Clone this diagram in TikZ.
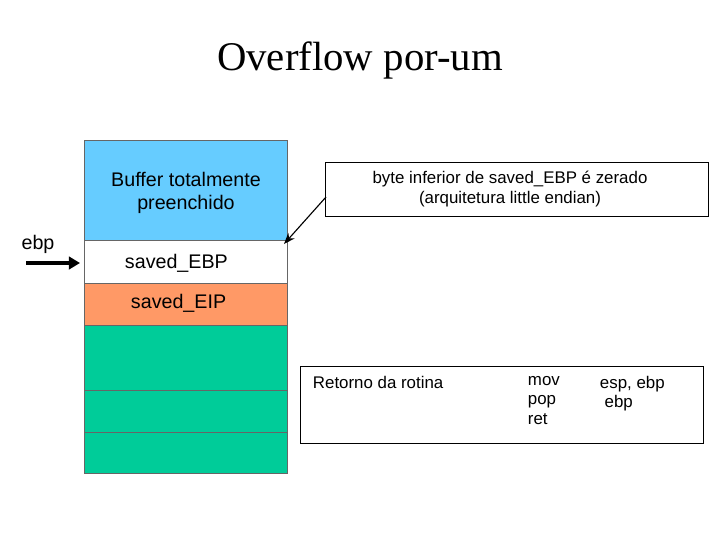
\documentclass[tikz,border=0pt]{standalone}
\usepackage{fontspec}
\setmainfont{Liberation Sans}
\newfontfamily\titlefont{Liberation Serif}
\usetikzlibrary{arrows.meta}
\definecolor{bufblue}{RGB}{102,204,255}
\definecolor{eiporange}{RGB}{255,153,102}
\definecolor{stackgreen}{RGB}{0,204,153}
\tikzset{
  cell/.style={draw=black!60, anchor=north west, inner sep=0pt},
  note/.style={draw=black, anchor=north west, inner sep=0pt},
  lbl/.style={font=\fontsize{14pt}{16pt}\selectfont, align=center},
  small/.style={font=\fontsize{12pt}{14pt}\selectfont, align=left}
}
\begin{document}
\begin{tikzpicture}[x=0.025cm, y=-0.025cm]
        \useasboundingbox (0,0) rectangle (720,540);
        % Titulo
        \node[font=\titlefont\fontsize{29pt}{32pt}\selectfont] (title) at (360,60) {Overflow por-um};

        % Pilha
        \node[cell, fill=bufblue, minimum width=5.08cm, minimum height=2.5cm] (buf) at (84,140) {};
        \node[lbl] (buftxt) at (186,193) {Buffer totalmente\\preenchido};
        \node[cell, fill=white, minimum width=5.08cm, minimum height=1.075cm] (ebpc) at (84,240) {};
        \node[lbl, anchor=west] (ebptxt) at (120,263) {saved\_EBP};
        \node[cell, fill=eiporange, minimum width=5.08cm, minimum height=1.05cm] (eip) at (84,283) {};
        \node[lbl, anchor=west] (eiptxt) at (126,303) {saved\_EIP};
        \node[cell, fill=stackgreen, minimum width=5.08cm, minimum height=1.625cm] (g1) at (84,325) {};
        \node[cell, fill=stackgreen, minimum width=5.08cm, minimum height=1.05cm] (g2) at (84,390) {};
        \node[cell, fill=stackgreen, minimum width=5.08cm, minimum height=1.025cm] (g3) at (84,432) {};

        % ebp
        \node[lbl] (ebp) at (38,244) {ebp};
        \coordinate (ebpa) at (26,263);
        \coordinate (ebpb) at (80,263);
        \draw[-{Triangle[length=8pt,width=9pt]}, line width=3pt] (ebpa) -- (ebpb);

        % Nota
        \node[note, minimum width=9.575cm, minimum height=1.35cm] (nota) at (325,162) {};
        \node[small, align=center] (notatxt) at (510,189) {byte inferior de saved\_EBP é zerado\\(arquitetura little endian)};
        \coordinate (notaend) at (326,197);
        \coordinate (notatip) at (284,244);
        \draw[-{Stealth[length=8pt,width=6pt]}, thick] (notaend) -- (notatip);

        % Retorno
        \node[note, minimum width=10.075cm, minimum height=1.925cm] (ret) at (300,366) {};
        \node[small, anchor=north west] (rettxt) at (308,371) {Retorno da rotina};
        \node[small, anchor=north west] (rettxt2) at (523,371) {mov\\pop\\ret};
        \node[small, anchor=north west] (rettxt3) at (595,371) {esp, ebp\\\ ebp};
    \end{tikzpicture}
\end{document}
